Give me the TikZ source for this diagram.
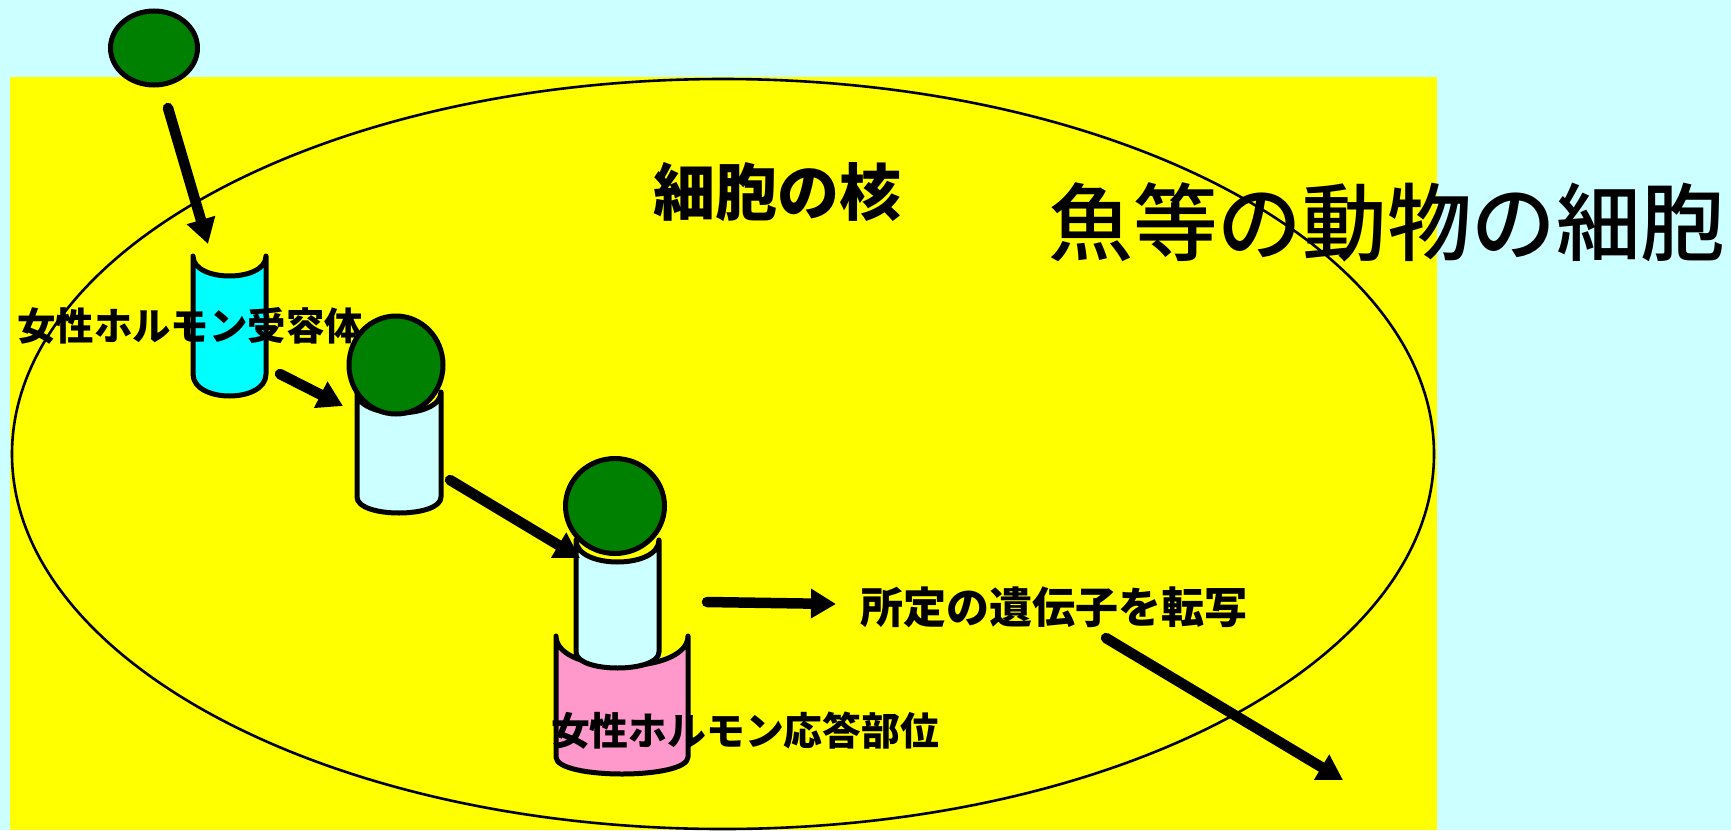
\documentclass[tikz,border=0pt]{standalone}
\usepackage{fontspec}
\usetikzlibrary{arrows.meta,shapes.geometric}
\newfontfamily\jpfont{Noto Sans CJK JP}
\newfontfamily\jpmedium{Noto Sans CJK JP Medium}
\definecolor{skycyan}{HTML}{CCFFFF}
\definecolor{cellyellow}{HTML}{FFFF00}
\definecolor{ballgreen}{HTML}{008000}
\definecolor{rcyan}{HTML}{00FFFF}
\definecolor{rpink}{HTML}{FF99CC}
% an open-topped can: left x, right x, top y, top sag, bottom y, bottom sag, fill
\newcommand\canshape[7]{%
  \draw[canline, fill=#7] (#1,#3) -- (#1,#5)
    .. controls (#1,#5+1.333*#6) and (#2,#5+1.333*#6) .. (#2,#5)
    -- (#2,#3)
    .. controls (#2,#3+1.333*#4) and (#1,#3+1.333*#4) .. (#1,#3) -- cycle;}
\begin{document}
\begin{tikzpicture}[x=1pt,y=-1pt,
  canline/.style={line width=5pt, line join=round},
  ball/.style={ellipse, draw=black, line width=5pt, fill=ballgreen, inner sep=0pt},
  bigarrow/.style={line width=10.5pt, line cap=round, -{Triangle[width=28pt,length=25pt]}},
  label/.style={inner sep=0pt, font=\jpfont\bfseries}]
  \useasboundingbox (0,0) rectangle (1731,830);
  % backgrounds
  \fill[skycyan] (0,0) rectangle (1731,830);
  \fill[cellyellow] (10,77) rectangle (1437,830);
  % nucleus
  \draw[line width=2.6pt] (723,454) ellipse [x radius=711, y radius=375];

  % free hormone
  \node[ball, minimum width=87pt, minimum height=74pt] (h1) at (154,48) {};

  % receptor
  \canshape{193}{266}{256}{20}{374}{22}{rcyan}
  \node[label, font=\jpfont\bfseries\fontsize{38.4pt}{40pt}\selectfont] (rlabel) at (190,326) {女性ホルモン受容体};

  % receptor with bound hormone
  \canshape{357}{441}{392}{21}{497}{16}{skycyan}
  \node[ball, minimum width=94pt, minimum height=98pt] (h2) at (396,365) {};

  % response element with bound complex
  \canshape{556}{688}{636}{30}{757}{17}{rpink}
  \canshape{576}{659}{540}{22}{652}{16}{skycyan}
  \node[ball, minimum width=99pt, minimum height=95pt] (h3) at (615,506) {};
  \node[label, font=\jpfont\bfseries\fontsize{38.8pt}{40pt}\selectfont] (elabel) at (745,731) {女性ホルモン応答部位};

  % titles
  \node[label, font=\jpfont\bfseries\fontsize{62pt}{64pt}\selectfont] (nucleus) at (777,192) {細胞の核};
  \node[inner sep=0pt, font=\jpmedium\fontsize{84.6pt}{86pt}\selectfont] (cell) at (1387,222) {魚等の動物の細胞};
  \node[label, font=\jpfont\bfseries\fontsize{43pt}{45pt}\selectfont] (tlabel) at (1054,607) {所定の遺伝子を転写};

  % arrow ends
  \coordinate (a1s) at (168,108);  \coordinate (a1e) at (208,244);
  \coordinate (a2s) at (280,374);  \coordinate (a2e) at (343,406);
  \coordinate (a3s) at (450,480);  \coordinate (a3e) at (580,558);
  \coordinate (a4s) at (707,602);  \coordinate (a4e) at (836,604);
  \coordinate (a5s) at (1106,638); \coordinate (a5e) at (1343,780);
  \draw[bigarrow] (a1s) -- (a1e);
  \draw[bigarrow] (a2s) -- (a2e);
  \draw[bigarrow] (a3s) -- (a3e);
  \draw[bigarrow] (a4s) -- (a4e);
  \draw[bigarrow] (a5s) -- (a5e);
\end{tikzpicture}
\end{document}
